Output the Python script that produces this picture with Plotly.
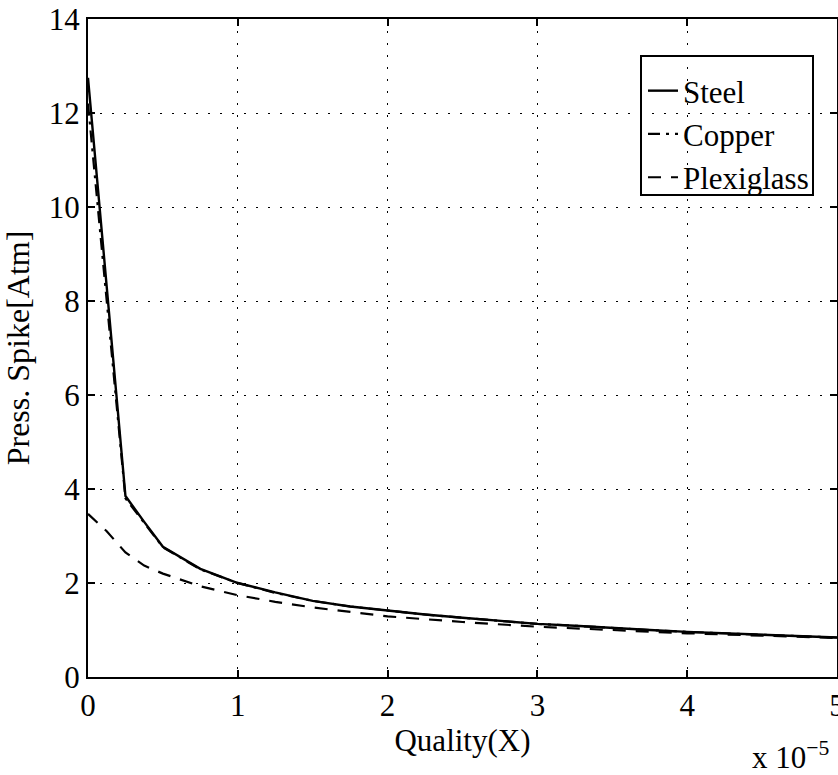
import plotly.graph_objects as go

# Quality (x 1e-5)
steel_x = [0, 0.25, 0.375, 0.5, 0.75, 1.0, 1.25, 1.5, 1.75, 2.0, 2.25, 2.5, 2.75, 3.0,
           3.25, 3.5, 3.75, 4.0, 4.25, 4.5, 4.75, 5.0]
steel_y = [12.75, 3.85, 3.3, 2.77, 2.3, 2.0, 1.8, 1.62, 1.5, 1.41, 1.33, 1.26, 1.19, 1.13,
           1.09, 1.04, 1.0, 0.96, 0.93, 0.9, 0.87, 0.84]

copper_x = [0, 0.25, 0.375, 0.5, 0.75, 1.0, 1.25, 1.5, 1.75, 2.0, 2.25, 2.5, 2.75, 3.0,
            3.25, 3.5, 3.75, 4.0, 4.25, 4.5, 4.75, 5.0]
copper_y = [12.2, 3.8, 3.28, 2.76, 2.29, 2.0, 1.79, 1.62, 1.5, 1.41, 1.33, 1.26, 1.19, 1.13,
            1.09, 1.04, 1.0, 0.96, 0.93, 0.9, 0.87, 0.84]

plexi_x = [0, 0.125, 0.25, 0.375, 0.5, 0.75, 1.0, 1.25, 1.5, 1.75, 2.0, 2.5, 3.0, 3.5, 4.0, 4.5, 5.0]
plexi_y = [3.47, 3.1, 2.65, 2.37, 2.2, 1.93, 1.74, 1.6, 1.48, 1.38, 1.29, 1.17, 1.07, 1.0, 0.93, 0.88, 0.83]

x_ticks = [0, 1, 2, 3, 4, 5]
y_ticks = [0, 2, 4, 6, 8, 10, 12, 14]

FONT = "Liberation Serif"

fig = go.Figure()
fig.add_trace(go.Scatter(x=steel_x, y=steel_y, mode="lines", name="Steel",
                         line=dict(color="black", width=2.4)))
fig.add_trace(go.Scatter(x=copper_x, y=copper_y, mode="lines", name="Copper",
                         line=dict(color="black", width=2.2, dash="12px,6px,3px,6px")))
fig.add_trace(go.Scatter(x=plexi_x, y=plexi_y, mode="lines", name="Plexiglass",
                         line=dict(color="black", width=2.2, dash="13px,10px")))

axis_common = dict(
    showline=True, linecolor="black", linewidth=2, mirror="ticks",
    ticks="inside", ticklen=7, tickwidth=1.5, tickcolor="black",
    showgrid=True, gridcolor="black", gridwidth=1.3, griddash="2px,10px",
    zeroline=False, ticklabeloverflow="allow", automargin=False,
    tickfont=dict(family=FONT, size=31, color="black"),
)

fig.update_xaxes(range=[0, 5], tickvals=x_ticks, ticktext=[str(v) for v in x_ticks],
                 title=dict(text="Quality(X)", font=dict(family=FONT, size=31, color="black"),
                            standoff=4),
                 **axis_common)
fig.update_yaxes(range=[0, 14], tickvals=y_ticks, ticktext=[str(v) for v in y_ticks],
                 title=dict(text="Press. Spike[Atm]", font=dict(family=FONT, size=32, color="black"),
                            standoff=20),
                 **axis_common)

fig.add_shape(type="rect", xref="paper", yref="paper",
              x0=(641 - 88) / 749, x1=(813 - 88) / 749,
              y0=(677 - 195) / 658, y1=(677 - 56) / 658,
              line=dict(color="black", width=2), fillcolor="rgba(0,0,0,0)", layer="above")

fig.add_annotation(xref="paper", yref="paper", x=(750 - 88) / 749, y=-0.152,
                   xanchor="left", yanchor="bottom", showarrow=False,
                   text="x 10<sup>\u22125</sup>",
                   font=dict(family=FONT, size=31, color="black"))

fig.update_layout(
    width=838, height=775,
    margin=dict(l=88, r=1, t=19, b=98),
    paper_bgcolor="white", plot_bgcolor="white",
    showlegend=True,
    legend=dict(x=(643 - 88) / 749, y=(677 - 64) / 658, xanchor="left", yanchor="top",
                bgcolor="rgba(0,0,0,0)", borderwidth=0,
                font=dict(family=FONT, size=31, color="black"),
                itemwidth=30, tracegroupgap=0),
)

fig.write_html("out.html")
